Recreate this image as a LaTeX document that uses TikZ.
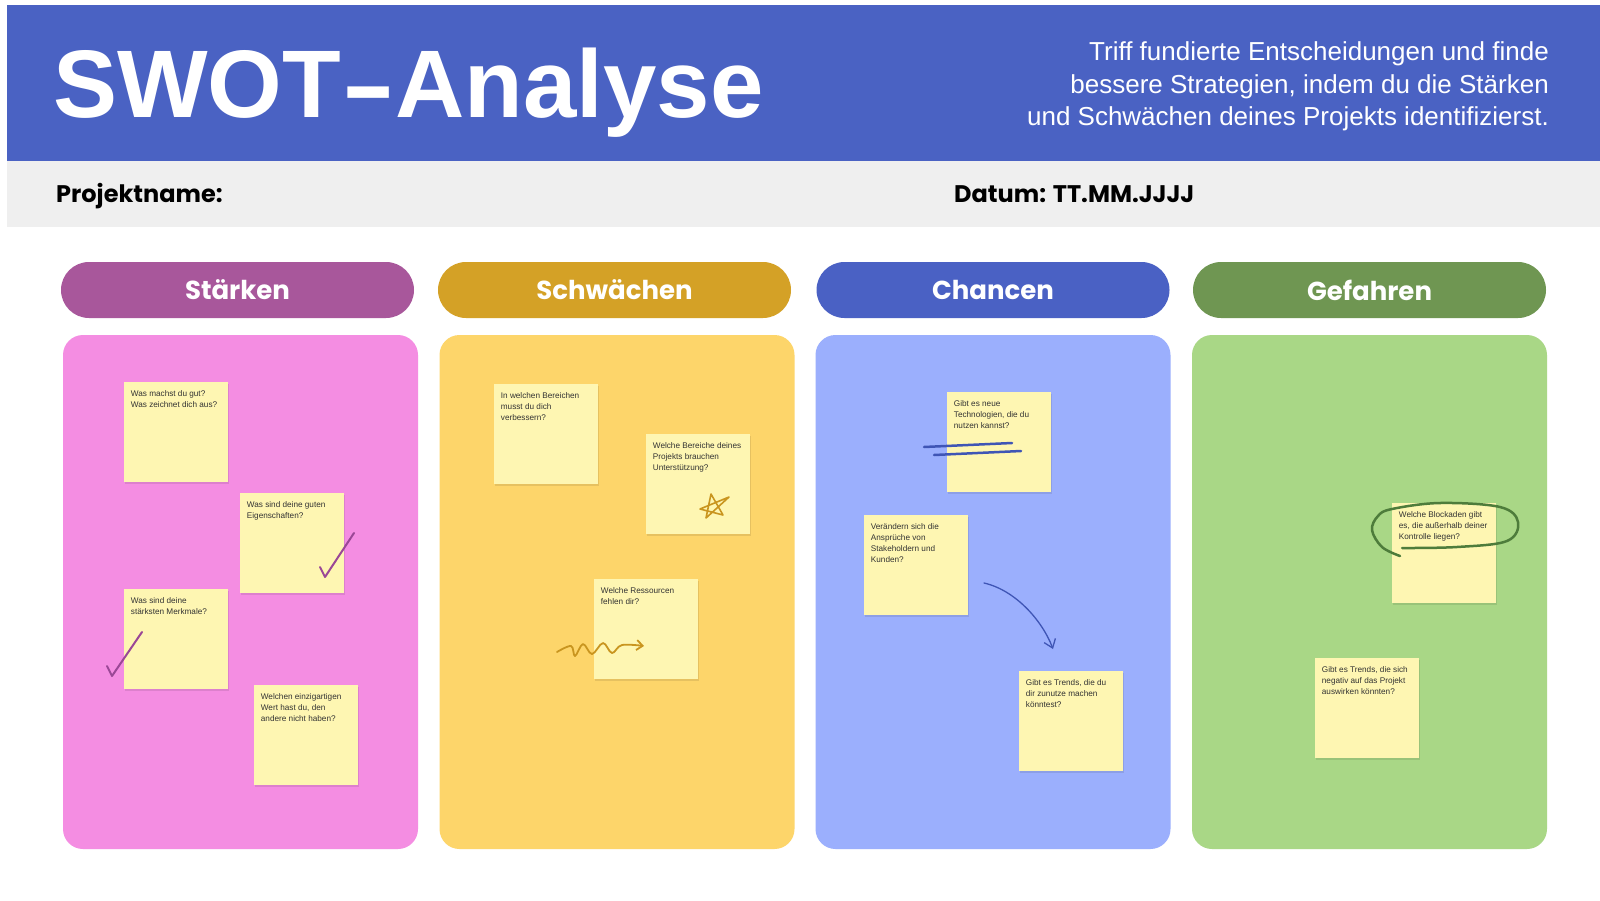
\documentclass[tikz,border=0pt]{standalone}
\usepackage{graphicx}
\usepackage{fontspec}
\setmainfont{Liberation Sans}
\newfontfamily\popfont{Poppins}
\usetikzlibrary{shadows,arrows.meta}
\definecolor{hdrblue}{HTML}{4A62C3}
\definecolor{bandgray}{HTML}{EFEFEF}
\definecolor{pillA}{HTML}{A8579B}
\definecolor{pillB}{HTML}{D4A126}
\definecolor{pillC}{HTML}{4A61C4}
\definecolor{pillD}{HTML}{6F9652}
\definecolor{panA}{HTML}{F48DE2}
\definecolor{panB}{HTML}{FDD56A}
\definecolor{panC}{HTML}{9BAFFD}
\definecolor{panD}{HTML}{A9D786}
\definecolor{stick}{HTML}{FEF6B2}
\definecolor{stext}{HTML}{333333}
\definecolor{inkP}{HTML}{9A4796}
\definecolor{inkG}{HTML}{C9951F}
\definecolor{inkB}{HTML}{3F55B5}
\definecolor{inkV}{HTML}{4E7C3B}
\begin{document}
\begin{tikzpicture}[x=1pt,y=-1pt,
  pill/.style={rectangle, rounded corners=28pt, minimum width=353pt, minimum height=56pt,
    inner sep=0pt, text=white, font=\popfont\bfseries\fontsize{26}{30}\selectfont},
  panel/.style={rectangle, rounded corners=20pt, minimum width=355pt, minimum height=514pt, inner sep=0pt},
  sticky/.style={rectangle, fill=stick, anchor=north west, inner sep=0pt,
    minimum width=104pt, minimum height=100pt,
    drop shadow={shadow xshift=0.3pt, shadow yshift=-2pt, opacity=0.09, fill=black}},
  stxt/.style={anchor=north west, inner sep=0pt, align=left, text=stext,
    font=\fontsize{8.2}{11}\selectfont},
  ink/.style={line width=2pt, line cap=round, line join=round},
  subline/.style={anchor=base east, inner sep=0pt, text=white, font=\fontsize{26}{30}\selectfont},
  bandtext/.style={anchor=base west, inner sep=0pt, text=black, font=\popfont\bfseries\fontsize{24}{28}\selectfont}
]
\useasboundingbox (0,0) rectangle (1600,900);
\fill[white] (0,0) rectangle (1600,900);
% header
\fill[hdrblue] (7,5) rectangle (1600,161);
\fill[bandgray] (7,161) rectangle (1600,227);
\node[anchor=base west, inner sep=0pt, text=white, font=\bfseries\fontsize{96}{96}\selectfont] (title) at (53,117) {SWOT\scalebox{1.7}[1]{-}Analyse};
\node[subline] (sub1) at (1549,60) {Triff fundierte Entscheidungen und finde};
\node[subline] (sub2) at (1549,93) {bessere Strategien, indem du die Stärken};
\node[subline] (sub3) at (1549,125) {und Schwächen deines Projekts identifizierst.};
\node[bandtext] (pname) at (56,202) {Projektname:};
\node[bandtext] (datum) at (954,202) {Datum: TT.MM.JJJJ};
% pills
\node[pill, fill=pillA] (pA) at (237.5,290) {Stärken};
\node[pill, fill=pillB] (pB) at (614.5,290) {Schwächen};
\node[pill, fill=pillC] (pC) at (993,290) {Chancen};
\node[pill, fill=pillD] (pD) at (1369.5,290) {Gefahren};
% panels
\node[panel, fill=panA] (kA) at (240.5,592) {};
\node[panel, fill=panB] (kB) at (617,592) {};
\node[panel, fill=panC] (kC) at (993,592) {};
\node[panel, fill=panD] (kD) at (1369.5,592) {};
% stickies panel A
\node[sticky] (a1) at (124,382) {};
\node[stxt] (a1t) at ([shift={(6.7,6.8)}]a1.north west) {\strut Was machst du gut?\\Was zeichnet dich aus?};
\node[sticky] (a2) at (240,493) {};
\node[stxt] (a2t) at ([shift={(6.7,6.8)}]a2.north west) {\strut Was sind deine guten\\Eigenschaften?};
\node[sticky] (a3) at (124,589) {};
\node[stxt] (a3t) at ([shift={(6.7,6.8)}]a3.north west) {\strut Was sind deine\\stärksten Merkmale?};
\node[sticky] (a4) at (254,685) {};
\node[stxt] (a4t) at ([shift={(6.7,6.8)}]a4.north west) {\strut Welchen einzigartigen\\Wert hast du, den\\andere nicht haben?};
% stickies panel B
\node[sticky] (b1) at (494,384) {};
\node[stxt] (b1t) at ([shift={(6.7,6.8)}]b1.north west) {\strut In welchen Bereichen\\musst du dich\\verbessern?};
\node[sticky] (b2) at (646,434) {};
\node[stxt] (b2t) at ([shift={(6.7,6.8)}]b2.north west) {\strut Welche Bereiche deines\\Projekts brauchen\\Unterstützung?};
\node[sticky] (b3) at (594,579) {};
\node[stxt] (b3t) at ([shift={(6.7,6.8)}]b3.north west) {\strut Welche Ressourcen\\fehlen dir?};
% stickies panel C
\node[sticky] (c1) at (947,392) {};
\node[stxt] (c1t) at ([shift={(6.7,6.8)}]c1.north west) {\strut Gibt es neue\\Technologien, die du\\nutzen kannst?};
\node[sticky] (c2) at (864,515) {};
\node[stxt] (c2t) at ([shift={(6.7,6.8)}]c2.north west) {\strut Verändern sich die\\Ansprüche von\\Stakeholdern und\\Kunden?};
\node[sticky] (c3) at (1019,671) {};
\node[stxt] (c3t) at ([shift={(6.7,6.8)}]c3.north west) {\strut Gibt es Trends, die du\\dir zunutze machen\\könntest?};
% stickies panel D
\node[sticky] (d1) at (1392,503) {};
\node[stxt] (d1t) at ([shift={(6.7,6.8)}]d1.north west) {\strut Welche Blockaden gibt\\es, die außerhalb deiner\\Kontrolle liegen?};
\node[sticky] (d2) at (1315,658) {};
\node[stxt] (d2t) at ([shift={(6.7,6.8)}]d2.north west) {\strut Gibt es Trends, die sich\\negativ auf das Projekt\\auswirken könnten?};
% hand-drawn marks
\draw[ink, inkP] (320,567) -- (325,577) -- (354,533);
\draw[ink, inkP] (107,666) -- (112,676) -- (142,632);
\draw[ink, inkG, line width=1.6pt] (711,494) -- (706,518) -- (729,497) -- (700,509) -- (723,515) -- (711,494);
\coordinate (sqS) at (557,652);
\coordinate (sqE) at (644,646);
\draw[ink, inkG, line width=1.8pt, -{Straight Barb[length=6pt,width=10pt]}] plot[smooth, tension=0.6] coordinates
  {(sqS) (571,646) (575,656) (583,644) (592,654) (603,643) (612,653) (622,645) (sqE)};
\draw[ink, inkB, line width=2.5pt] (924,447) -- (1012,443);
\draw[ink, inkB, line width=2.5pt] (934,455) -- (1021,451);
\coordinate (arS) at (984,583);
\coordinate (arE) at (1053,649);
\draw[inkB, line width=1.3pt, line cap=round, -{Straight Barb[length=8pt,width=12pt]}] (arS) .. controls (1015,590) and (1042,620) .. (arE);
\draw[ink, inkV, line width=2.5pt] plot[smooth, tension=0.6] coordinates
  {(1400,556) (1382,547) (1372,530) (1378,516) (1392,509) (1440,503) (1500,507) (1518,522) (1507,541) (1457,547) (1402,548)};
\end{tikzpicture}
\end{document}
